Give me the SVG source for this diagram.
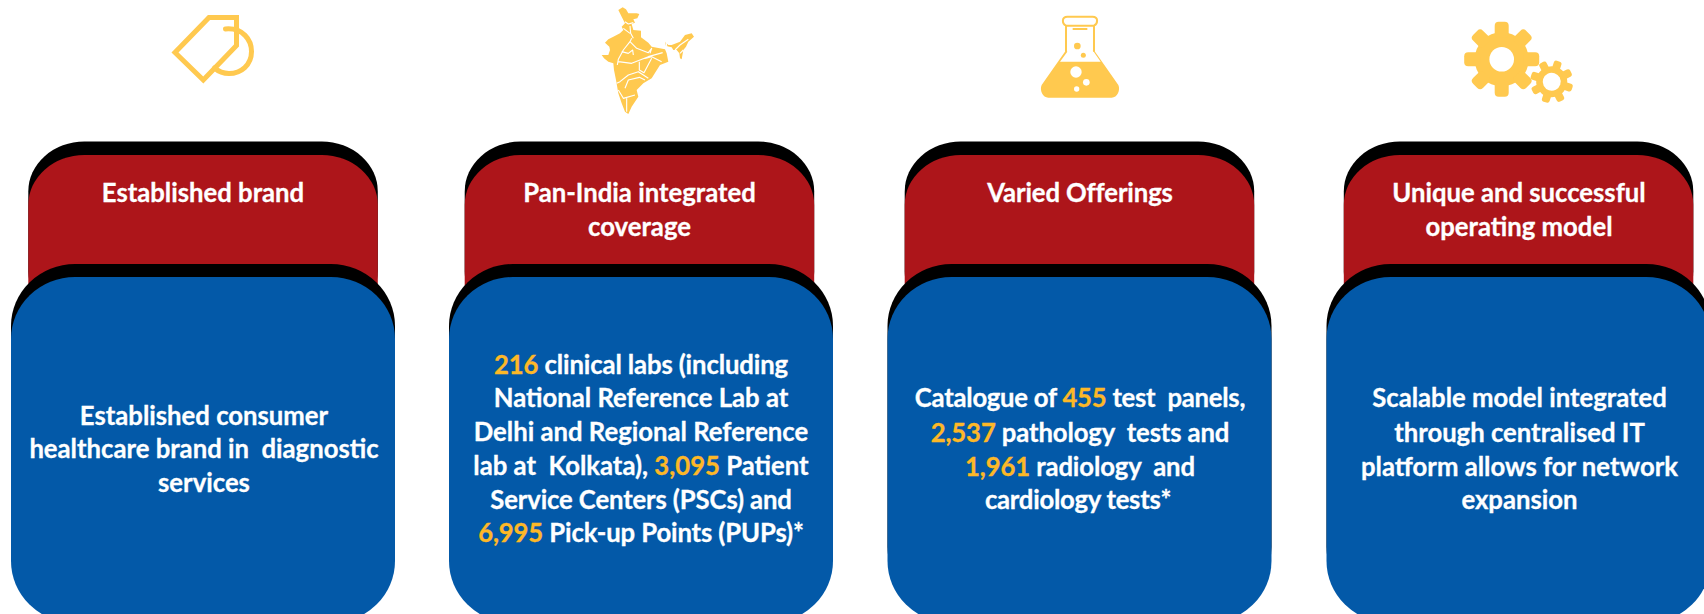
<svg xmlns="http://www.w3.org/2000/svg" width="1704" height="614" viewBox="0 0 1704 614">
<style>
text{font-family:"Lato","Carlito","Open Sans",sans-serif;font-weight:700;font-size:25.7px;fill:#fff;stroke:#fff;stroke-width:.3px;text-anchor:middle;white-space:pre}
.n{fill:#FDB827;stroke:#FDB827}
.tight{letter-spacing:-.12px}
.tighter{letter-spacing:-.25px}
.blk{fill:#000}
.red{fill:#AD151A}
.blu{fill:#0359A8}
.ic{fill:#FFC94F}
.tag{fill:none;stroke:#FFC94F;stroke-width:5}
.st{fill:none;stroke:#fff;stroke-width:3.4;stroke-linejoin:round}
</style>
<defs>
<g id="head"><rect class="blk" x="0" y="141.5" width="349.5" height="180" rx="56" ry="50"/><rect class="red" x="0" y="155" width="349.5" height="180" rx="56" ry="50"/></g>
<g id="body"><rect class="blk" x="0" y="264" width="384" height="345" rx="64" ry="62"/><rect class="blu" x="0" y="277" width="384" height="346" rx="64" ry="62"/></g>
<g id="tooth"><rect x="-7" y="-37.5" width="14" height="16" rx="4"/></g>
<g id="tooth2"><rect x="-4" y="-21.5" width="8" height="10" rx="2.5"/></g>
</defs>
<rect width="1704" height="614" fill="#fff"/>

<g id="icon-tag">
<path class="tag" d="M209 17.5H236.500V45.500L203.300 80L175 52.500Z"/>
<path class="tag" stroke-linecap="round" d="M225.500 29C243 27.500 251.500 40 251.500 51.500C251.500 65 241 73.500 229 73.500C223 73.500 218.500 71.500 214.500 68"/>
</g>

<g id="icon-india" transform="translate(580 0) scale(.33333)">
<path class="ic" d="M115 30L128 22L138 28L145 40L170 40L178 42L172 55L160 58L165 68L155 72L160 90L183 92L183 112L205 128L215 140L255 148L260 160L265 185L240 195L215 235L190 250L170 270L175 290L155 320L145 342L135 335L125 310L115 280L108 240L102 210L100 190L85 185L72 175L65 165L85 165L90 150L88 140L75 128L85 118L100 110L120 100L130 90L125 80L135 70L125 50Z"/>
<path class="ic" d="M255 125L265 135L275 135L300 125L315 105L335 100L342 110L325 125L318 140L310 150L305 178L300 175L298 160L290 150L280 150L275 142L258 138Z"/>
<path class="st" d="M135 65L145 72L160 68M150 78L152 100L160 115M130 85L150 100M155 115L150 125L130 150L122 165L115 178L112 195M150 125L170 145L205 158L215 145L210 160M125 155L145 160L158 150L160 165M115 185L155 190L180 180L205 170L248 158M195 175L215 170L245 185M178 185L178 210L192 218L215 175M110 250L120 245L145 225L175 215L190 225L205 235M115 270L130 295L165 285M135 265L145 240L178 232L195 240M140 295L140 335M285 150L300 135L325 118M300 160L310 150M258 125L262 150"/>
</g>

<g id="icon-flask" transform="translate(1030 5) scale(.33333)">
<path fill="none" stroke="#FFC94F" stroke-width="6" stroke-linejoin="round" d="M108 60L108 140M192 60L192 140M108 62C95 55 95 35 112 35L188 35C205 35 205 55 192 62Z"/>
<path class="ic" d="M108 136L112 140L90 170L212 170L188 136L192 136L265 240C272 255 262 278 245 278L55 278C38 278 28 255 35 240Z"/>
<path fill="none" stroke="#FFC94F" stroke-width="6" d="M128 72H172"/>
<circle class="ic" cx="142" cy="123" r="10"/><circle class="ic" cx="160" cy="151" r="7.500"/>
<circle fill="#fff" cx="138" cy="201" r="17"/><circle fill="#fff" cx="169" cy="232" r="10"/><circle fill="#fff" cx="140" cy="252" r="8"/>
</g>

<g id="icon-gears" class="ic">
<g transform="translate(1501.700 59.300)">
<circle r="27"/>
<use href="#tooth"/><use href="#tooth" transform="rotate(45)"/><use href="#tooth" transform="rotate(90)"/><use href="#tooth" transform="rotate(135)"/><use href="#tooth" transform="rotate(180)"/><use href="#tooth" transform="rotate(225)"/><use href="#tooth" transform="rotate(270)"/><use href="#tooth" transform="rotate(315)"/>
<circle r="12.300" fill="#fff"/>
</g>
<g transform="translate(1551.700 81.700) rotate(18)">
<circle r="15.500"/>
<use href="#tooth2"/><use href="#tooth2" transform="rotate(45)"/><use href="#tooth2" transform="rotate(90)"/><use href="#tooth2" transform="rotate(135)"/><use href="#tooth2" transform="rotate(180)"/><use href="#tooth2" transform="rotate(225)"/><use href="#tooth2" transform="rotate(270)"/><use href="#tooth2" transform="rotate(315)"/>
<circle r="9" fill="#fff"/>
</g>
</g>

<g id="card-brand">
<use href="#head" x="28.300"/><use href="#body" x="11"/>
<text x="203" y="201.500">Established brand</text>
<text x="204" y="424.500">Established consumer</text>
<text x="204" y="458.200">healthcare brand in  diagnostic</text>
<text x="204" y="492.200">services</text>
</g>

<g id="card-coverage">
<use href="#head" x="464.700"/><use href="#body" x="449"/>
<text x="639.500" y="201.500">Pan-India integrated</text>
<text x="639.500" y="235.500">coverage</text>
<text x="641" y="373.800" class="tight"><tspan class="n">216</tspan> clinical labs (including</text>
<text x="641" y="407.200">National Reference Lab at</text>
<text x="641" y="441.200">Delhi and Regional Reference</text>
<text x="641" y="474.800">lab at  Kolkata), <tspan class="n">3,095</tspan> Patient</text>
<text x="641" y="508.800" class="tight">Service Centers (PSCs) and</text>
<text x="641" y="542.200" class="tight"><tspan class="n">6,995</tspan> Pick-up Points (PUPs)*</text>
</g>

<g id="card-offerings">
<use href="#head" x="904.700"/><use href="#body" x="887.500"/>
<text x="1080" y="201.500" class="tight">Varied Offerings</text>
<text x="1080" y="407.200" class="tighter">Catalogue of <tspan class="n">455</tspan> test  panels,</text>
<text x="1080" y="441.500" class="tight"><tspan class="n">2,537</tspan> pathology  tests and</text>
<text x="1080" y="475.500" class="tight"><tspan class="n">1,961</tspan> radiology  and</text>
<text x="1078" y="509" class="tighter">cardiology tests*</text>
</g>

<g id="card-model">
<use href="#head" x="1343.800"/><use href="#body" x="1326.500"/>
<text x="1519" y="201.500">Unique and successful</text>
<text x="1519" y="235.500">operating model</text>
<text x="1519.500" y="407.200">Scalable model integrated</text>
<text x="1519.500" y="441.500">through centralised IT</text>
<text x="1519.500" y="475.500">platform allows for network</text>
<text x="1519.500" y="509">expansion</text>
</g>
</svg>
